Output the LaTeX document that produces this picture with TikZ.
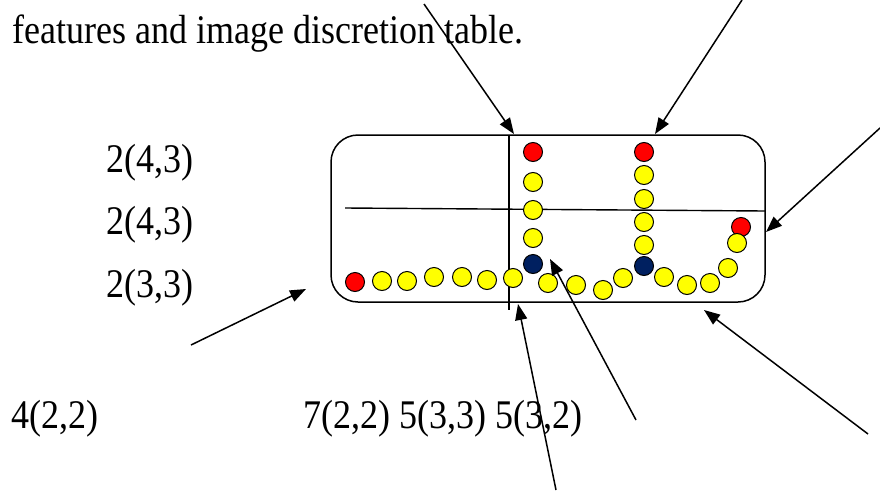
\documentclass[tikz,border=0pt]{standalone}
\usepackage{fontspec}
\usepackage{graphicx}
\setmainfont{Liberation Serif}
\usetikzlibrary{arrows.meta}
\definecolor{dotred}{RGB}{255,0,0}
\definecolor{dotyellow}{RGB}{255,255,0}
\definecolor{dotnavy}{RGB}{0,32,96}
\newcommand{\tallbox}[1]{\scalebox{1}[1.13]{#1}}
\begin{document}
\begin{tikzpicture}[x=1pt,y=-1pt,
  dot/.style={circle,draw=black,line width=1pt,minimum size=19pt,inner sep=0pt},
  rdot/.style={dot,fill=dotred},
  ydot/.style={dot,fill=dotyellow},
  ndot/.style={dot,fill=dotnavy},
  lbl/.style={anchor=base west,inner sep=0pt,font=\fontsize{36}{40}\selectfont},
  pointer/.style={line width=1.5pt,-{Triangle[length=16pt,width=12pt]}},
  frame/.style={draw,line width=1.5pt,rounded corners=27pt,inner sep=0pt},
  rule/.style={line width=1.4pt}]
\useasboundingbox (0,0) rectangle (880,490);

% labels
\node[lbl] (title) at (12,43) {\tallbox{features and image discretion table.}};
\node[lbl] (rowA) at (106,172) {\tallbox{2(4,3)}};
\node[lbl] (rowB) at (106,234) {\tallbox{2(4,3)}};
\node[lbl] (rowC) at (106,297) {\tallbox{2(3,3)}};
\node[lbl] (colA) at (11,428) {\tallbox{4(2,2)}};
\node[lbl] (colB) at (303,428) {\tallbox{7(2,2) 5(3,3) 5(3,2)}};

% the board with its two dividing lines
\node[frame,minimum width=434pt,minimum height=167pt] (board) at (548,218.5) {};
\coordinate (vtop) at (509,135);
\coordinate (vbot) at (509,310);
\coordinate (hleft) at (345,208);
\coordinate (hright) at (765,211);
\draw[rule] (vtop) -- (vbot);
\draw[rule] (hleft) -- (hright);

% first stroke column
\node[rdot] (a1) at (533,152) {};
\node[ydot] (a2) at (533,182) {};
\node[ydot] (a3) at (533,210) {};
\node[ydot] (a4) at (533,238) {};
\node[ndot] (a5) at (533,264) {};
% second stroke column
\node[rdot] (b1) at (644,152) {};
\node[ydot] (b2) at (644,175) {};
\node[ydot] (b3) at (644,199) {};
\node[ydot] (b4) at (644,222) {};
\node[ydot] (b5) at (644,245) {};
\node[ndot] (b6) at (644,266) {};
% bottom stroke
\node[rdot] (c1) at (355,282) {};
\node[ydot] (c2) at (382,281) {};
\node[ydot] (c3) at (407,281) {};
\node[ydot] (c4) at (434,277) {};
\node[ydot] (c5) at (462,277) {};
\node[ydot] (c6) at (487,280) {};
\node[ydot] (c7) at (513,278) {};
\node[ydot] (c8) at (548,283) {};
\node[ydot] (c9) at (576,285) {};
\node[ydot] (c10) at (603,290) {};
\node[ydot] (c11) at (623,278) {};
\node[ydot] (c12) at (664,277) {};
\node[ydot] (c13) at (687,285) {};
\node[ydot] (c14) at (710,283) {};
\node[ydot] (c15) at (728,268) {};
\node[rdot] (c17) at (741,227) {};
\node[ydot] (c16) at (737,243) {};

% pointers
\coordinate (p1s) at (424,4);
\coordinate (p1e) at (514,134);
\coordinate (p2s) at (742,0);
\coordinate (p2e) at (655,134);
\coordinate (p3s) at (880,128);
\coordinate (p3e) at (766,232);
\coordinate (p4s) at (191,345);
\coordinate (p4e) at (306,289);
\coordinate (p5s) at (556,490);
\coordinate (p5e) at (518,304);
\coordinate (p6s) at (636,420);
\coordinate (p6e) at (550,259);
\coordinate (p7s) at (868,434);
\coordinate (p7e) at (704,310);
\draw[pointer] (p1s) -- (p1e);
\draw[pointer] (p2s) -- (p2e);
\draw[pointer] (p3s) -- (p3e);
\draw[pointer] (p4s) -- (p4e);
\draw[pointer] (p5s) -- (p5e);
\draw[pointer] (p6s) -- (p6e);
\draw[pointer] (p7s) -- (p7e);
\end{tikzpicture}
\end{document}
